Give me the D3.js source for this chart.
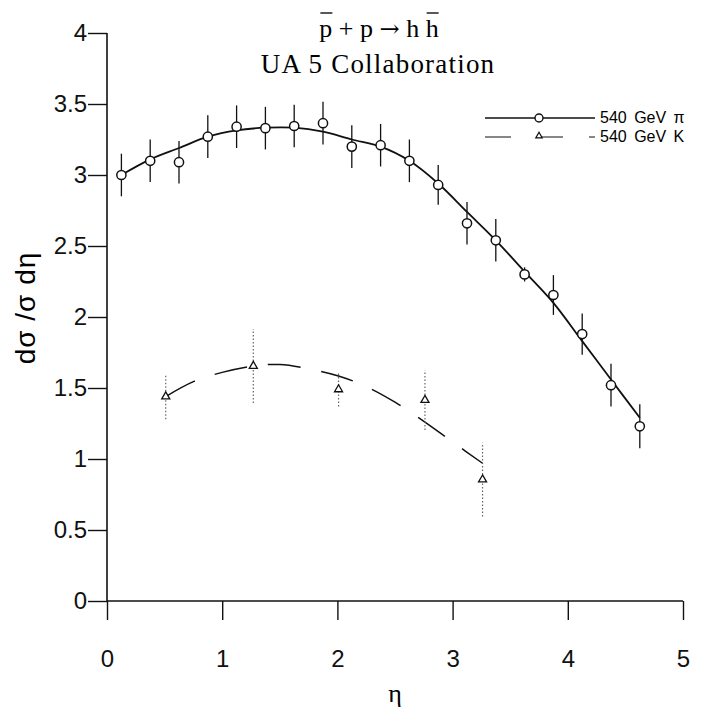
<!DOCTYPE html>
<html lang="en">
<head>
<meta charset="UTF-8">
<title>UA5 pseudorapidity</title>
<script src="https://cdn.jsdelivr.net/npm/d3@7"></script>
<style>
  body { margin: 0; background: #fff; }
  svg { display: block; }
</style>
</head>
<body>
<svg width="712" height="720"></svg>
<script>
    // pion data (circles)
    const etaPi = [0.125, 0.375, 0.625, 0.875, 1.125, 1.375, 1.625, 1.875, 2.125, 2.375,
                   2.625, 2.875, 3.125, 3.375, 3.625, 3.875, 4.125, 4.375, 4.625];
    const valPi = [3.00, 3.10, 3.09, 3.27, 3.34, 3.33, 3.345, 3.365, 3.20, 3.21,
                   3.10, 2.93, 2.66, 2.54, 2.30, 2.155, 1.88, 1.52, 1.23];
    const errPi = [0.15, 0.15, 0.15, 0.15, 0.15, 0.15, 0.15, 0.15, 0.15, 0.15,
                   0.15, 0.14, 0.15, 0.15, 0.05, 0.14, 0.145, 0.15, 0.155];
    const fitPi = [3.00, 3.11, 3.19, 3.27, 3.315, 3.333, 3.333, 3.305, 3.25, 3.20,
                   3.10, 2.94, 2.74, 2.54, 2.32, 2.10, 1.83, 1.56, 1.29];

    // kaon data (triangles)
    const etaK = [0.51, 1.27, 2.01, 2.76, 3.26];
    const valK = [1.44, 1.655, 1.49, 1.415, 0.855];
    const errK = [0.16, 0.26, 0.12, 0.21, 0.26];
    const fitEtaK = [0.51, 0.75, 1.0, 1.27, 1.5, 1.75, 2.01, 2.25, 2.5, 2.76, 3.0, 3.26];
    const fitK = [1.44, 1.545, 1.61, 1.655, 1.665, 1.635, 1.585, 1.51, 1.40, 1.26, 1.12, 0.97];

    const xTicks = [0, 1, 2, 3, 4, 5];
    const yTicks = [0, 0.5, 1, 1.5, 2, 2.5, 3, 3.5, 4];
    const legendLabels = ["540 GeV \u03c0", "540 GeV K"];

    const svg = d3.select("svg");
    const x = d3.scaleLinear().domain([0, 5]).range([107, 683]);
    const y = d3.scaleLinear().domain([0, 4]).range([601, 33]);

    const sans = "'Liberation Sans', Arial, sans-serif";
    const serif = "'Liberation Serif', 'Times New Roman', serif";

    // axes
    const yAxis = svg.append("g")
        .attr("transform", `translate(${x(0)},0)`)
        .call(d3.axisLeft(y).tickValues(yTicks).tickSize(19).tickPadding(1)
            .tickFormat(d => String(d)));
    const xAxis = svg.append("g")
        .attr("transform", `translate(0,${y(0)})`)
        .call(d3.axisBottom(x).tickValues(xTicks).tickSize(19).tickPadding(30)
            .tickFormat(d => String(d)));
    [xAxis, yAxis].forEach(g => {
        g.select(".domain").attr("stroke", "#111").attr("stroke-width", 1.6);
        g.selectAll(".tick line").attr("stroke", "#111").attr("stroke-width", 1.4);
        g.selectAll(".tick text").attr("fill", "#111")
            .style("font", `24px ${sans}`);
    });
    // plain axis lines, no end caps
    yAxis.select(".domain").attr("d", `M0,${y(4)}V${y(0)}`);
    xAxis.select(".domain").attr("d", `M${x(0)},0H${x(5)}`);

    // axis titles
    svg.append("text")
        .attr("x", x(2.5)).attr("y", 702)
        .attr("text-anchor", "middle")
        .style("font", `26px ${serif}`)
        .text("\u03b7");
    svg.append("text")
        .attr("transform", "translate(35,308) rotate(-90)")
        .attr("text-anchor", "middle")
        .style("font", `28px ${sans}`)
        .attr("letter-spacing", 1)
        .text("d\u03c3 /\u03c3 d\u03b7");

    // title
    const t1 = svg.append("text")
        .attr("x", 379).attr("y", 37)
        .attr("text-anchor", "middle")
        .style("font", `26px ${serif}`);
    t1.append("tspan").text("p + p ");
    t1.append("tspan").style("font-family", "'DejaVu Serif', serif").style("font-size", "24px").text("\u2192");
    t1.append("tspan").text(" h h");
    const t1n = t1.node();
    const nChars = t1n.getNumberOfChars();
    [0, nChars - 1].forEach(i => {
        const a = t1n.getStartPositionOfChar(i).x;
        const b = t1n.getEndPositionOfChar(i).x;
        svg.append("line")
            .attr("x1", a + 1).attr("x2", b)
            .attr("y1", 13).attr("y2", 13)
            .attr("stroke", "#111").attr("stroke-width", 1.4);
    });
    svg.append("text")
        .attr("x", 378).attr("y", 73)
        .attr("text-anchor", "middle")
        .attr("letter-spacing", 1.2)
        .style("font", `27px ${serif}`)
        .text("UA 5 Collaboration");

    // pion fit
    const line = d3.line().curve(d3.curveCatmullRom).x(d => x(d[0])).y(d => y(d[1]));
    svg.append("path")
        .datum(d3.zip(etaPi, fitPi))
        .attr("fill", "none").attr("stroke", "#111").attr("stroke-width", 1.8)
        .attr("d", line);

    // kaon fit
    svg.append("path")
        .datum(d3.zip(fitEtaK, fitK))
        .attr("fill", "none").attr("stroke", "#111").attr("stroke-width", 1.5)
        .attr("stroke-dasharray", "33,21")
        .attr("d", line);

    // pion error bars and circles
    const pi = d3.zip(etaPi, valPi, errPi);
    svg.append("g").selectAll("line").data(pi).join("line")
        .attr("x1", d => x(d[0])).attr("x2", d => x(d[0]))
        .attr("y1", d => y(d[1] - d[2])).attr("y2", d => y(d[1] + d[2]))
        .attr("stroke", "#111").attr("stroke-width", 1.3);
    svg.append("g").selectAll("circle").data(pi).join("circle")
        .attr("cx", d => x(d[0])).attr("cy", d => y(d[1])).attr("r", 4.6)
        .attr("fill", "#fff").attr("stroke", "#111").attr("stroke-width", 1.5);

    // kaon error bars (dotted) and triangles
    const kk = d3.zip(etaK, valK, errK);
    svg.append("g").selectAll("line").data(kk).join("line")
        .attr("x1", d => x(d[0])).attr("x2", d => x(d[0]))
        .attr("y1", d => y(d[1] - d[2])).attr("y2", d => y(d[1] + d[2]))
        .attr("stroke", "#666").attr("stroke-width", 1.2)
        .attr("stroke-dasharray", "1.5,2");
    const tri = d3.symbol().type(d3.symbolTriangle).size(28);
    svg.append("g").selectAll("path").data(kk).join("path")
        .attr("transform", d => `translate(${x(d[0])},${y(d[1])})`)
        .attr("d", tri)
        .attr("fill", "#fff").attr("stroke", "#111").attr("stroke-width", 1.3);

    // legend
    const lg = svg.append("g");
    lg.append("line").attr("x1", 485).attr("x2", 595).attr("y1", 118).attr("y2", 118)
        .attr("stroke", "#111").attr("stroke-width", 1.5);
    lg.append("circle").attr("cx", 539).attr("cy", 118).attr("r", 4)
        .attr("fill", "#fff").attr("stroke", "#111").attr("stroke-width", 1.4);
    lg.append("line").attr("x1", 485).attr("x2", 595).attr("y1", 137).attr("y2", 137)
        .attr("stroke", "#111").attr("stroke-width", 1.2)
        .attr("stroke-dasharray", "26,26");
    lg.append("path").attr("transform", "translate(539,136)").attr("d", d3.symbol().type(d3.symbolTriangle).size(18))
        .attr("fill", "#fff").attr("stroke", "#111").attr("stroke-width", 1.2);
    lg.selectAll("text").data(legendLabels).join("text")
        .attr("x", 600).attr("y", (d, i) => 123 + i * 19)
        .style("font", `16px ${sans}`)
        .attr("word-spacing", 3)
        .text(d => d);
</script>
</body>
</html>
